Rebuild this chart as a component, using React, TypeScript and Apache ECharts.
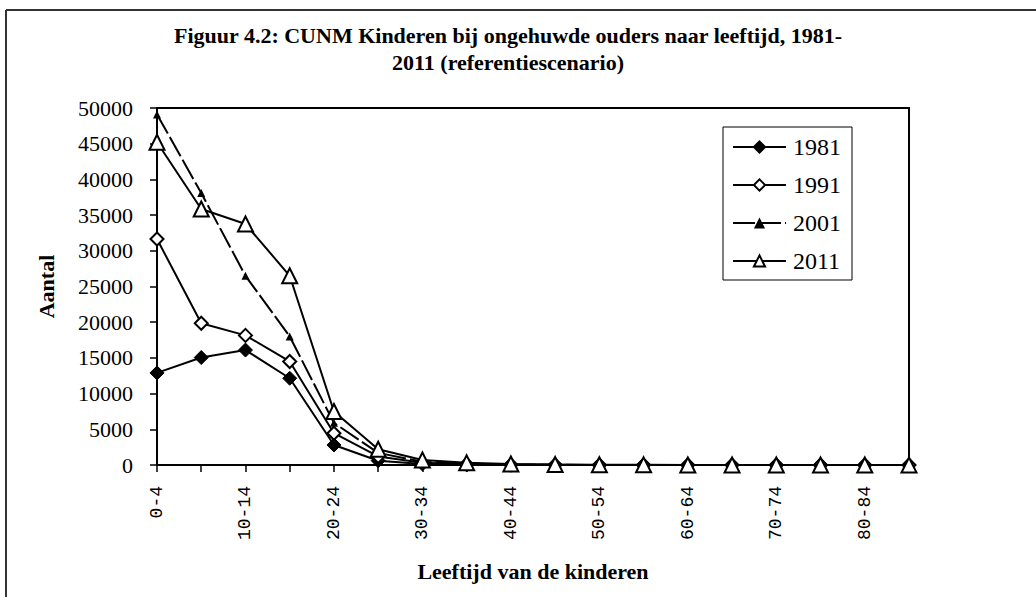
import React, { useEffect, useRef } from "react";
import * as echarts from "echarts";

const categories = ["0-4","5-9","10-14","15-19","20-24","25-29","30-34","35-39","40-44","45-49","50-54","55-59","60-64","65-69","70-74","75-79","80-84","85+"];
const s1981 = [12900, 15050, 16100, 12150, 2800, 600, 150, 50, 20, 10, 0, 0, 0, 0, 0, 0, 0, 0];
const s1991 = [31650, 19850, 18150, 14500, 4450, 1200, 300, 100, 40, 20, 10, 0, 0, 0, 0, 0, 0, 0];
const s2001 = [49100, 38100, 26500, 18000, 5900, 1700, 450, 150, 60, 30, 10, 5, 0, 0, 0, 0, 0, 0];
const s2011 = [45200, 35850, 33750, 26500, 7500, 2200, 700, 300, 150, 80, 40, 20, 10, 5, 0, 0, 0, 0];
const titleText = "Figuur 4.2: CUNM Kinderen bij ongehuwde ouders naar leeftijd, 1981-\n2011 (referentiescenario)";
const yTitle = "Aantal";
const xTitle = "Leeftijd van de kinderen";

const FONT = "'Liberation Serif', 'Times New Roman', serif";
const MONO = "'Liberation Mono', 'Courier New', monospace";

export default function App() {
  const ref = useRef<HTMLDivElement>(null);
  useEffect(() => {
    const chart = echarts.init(ref.current!, null, { renderer: "svg" });
    const line = { color: "#000", width: 2 };
    chart.setOption({
      animation: false,
      backgroundColor: "#fff",
      title: {
        text: titleText,
        left: 503,
        textAlign: "center",
        top: 17,
        textStyle: { fontFamily: FONT, fontWeight: "bold", fontSize: 22, color: "#000", lineHeight: 27 },
      },
      graphic: [
        { type: "line", shape: { x1: 6, y1: 10, x2: 1036, y2: 10 }, style: { stroke: "#333", lineWidth: 2 } },
        { type: "line", shape: { x1: 6, y1: 10, x2: 6, y2: 597 }, style: { stroke: "#333", lineWidth: 2 } },
      ],
      legend: {
        orient: "vertical",
        left: 723,
        top: 127,
        itemWidth: 53,
        itemHeight: 14,
        itemGap: 14,
        padding: [8, 11, 7, 9],
        borderColor: "#000",
        borderWidth: 1,
        textStyle: { fontFamily: FONT, fontSize: 24, color: "#000", lineHeight: 24, padding: [0, 0, 0, 2] },
        data: ["1981", "1991", "2001", "2011"],
      },
      grid: {
        left: 157,
        right: 127,
        top: 108,
        bottom: 132,
        show: true,
        borderColor: "#000",
        borderWidth: 2,
      },
      xAxis: {
        type: "category",
        data: categories,
        boundaryGap: false,
        axisLine: { lineStyle: line },
        axisTick: { show: true, interval: 0, length: 7, lineStyle: { color: "#000", width: 1.5 } },
        axisLabel: { interval: 1, rotate: 90, fontFamily: MONO, fontSize: 18, color: "#000", margin: 21 },
        name: xTitle,
        nameLocation: "middle",
        nameGap: 95,
        nameTextStyle: { fontFamily: FONT, fontWeight: "bold", fontSize: 22, color: "#000" },
      },
      yAxis: {
        type: "value",
        min: 0,
        max: 50000,
        interval: 5000,
        splitLine: { show: false },
        axisLine: { show: true, lineStyle: line },
        axisTick: { show: true, length: 7, lineStyle: { color: "#000", width: 1.5 } },
        axisLabel: { fontFamily: FONT, fontSize: 22, color: "#000", margin: 24, formatter: (v: number) => String(v) },
        name: yTitle,
        nameLocation: "middle",
        nameGap: 100,
        nameTextStyle: { fontFamily: FONT, fontWeight: "bold", fontSize: 22, color: "#000" },
      },
      series: [
        {
          name: "1981", type: "line", data: s1981, symbol: "diamond", symbolSize: 14,
          lineStyle: { color: "#000", width: 2 },
          itemStyle: { color: "#000", borderColor: "#000", borderWidth: 1 },
          z: 3,
        },
        {
          name: "1991", type: "line", data: s1991, symbol: "diamond", symbolSize: 13,
          lineStyle: { color: "#000", width: 2 },
          itemStyle: { color: "#fff", borderColor: "#000", borderWidth: 2 },
          z: 4,
        },
        {
          name: "2001", type: "line", data: s2001, symbol: "triangle", symbolSize: 8,
          lineStyle: { color: "#000", width: 2, type: [22, 4] },
          itemStyle: { color: "#000", borderColor: "#000", borderWidth: 0 },
          z: 5,
        },
        {
          name: "2011", type: "line", data: s2011, symbol: "triangle", symbolSize: 15,
          lineStyle: { color: "#000", width: 2 },
          itemStyle: { color: "#fff", borderColor: "#000", borderWidth: 2 },
          z: 6,
        },
      ],
    });
    return () => chart.dispose();
  }, []);
  return <div ref={ref} style={{ width: 1036, height: 597, position: "absolute", left: 0, top: 0 }} />;
}
